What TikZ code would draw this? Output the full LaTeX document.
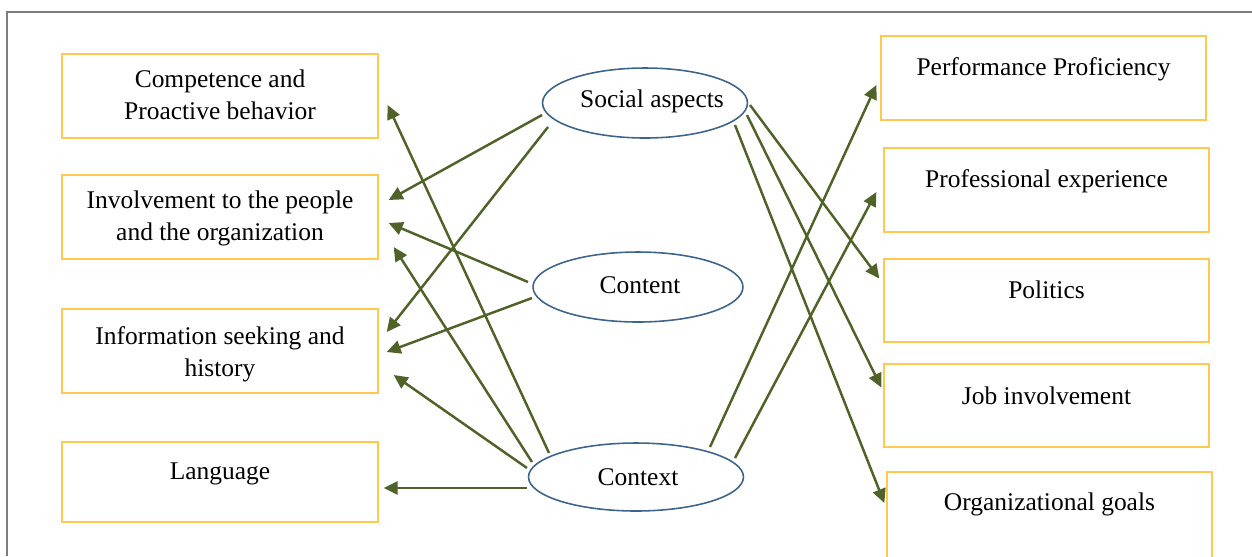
\documentclass[tikz,border=0pt]{standalone}
\usepackage{fontspec}
\setmainfont{Liberation Serif}
\usetikzlibrary{arrows.meta,calc,shapes.geometric}
\definecolor{boxc}{RGB}{255,200,80}
\definecolor{ellc}{RGB}{60,100,140}
\definecolor{arrc}{RGB}{79,98,40}
\definecolor{framec}{RGB}{125,125,125}
\begin{document}
\begin{tikzpicture}[x=0.02cm,y=-0.02cm,
  lbox/.style={draw=boxc,line width=0.8pt,inner sep=0pt,minimum width=6.32cm,minimum height=1.68cm},
  rbox/.style={draw=boxc,line width=0.8pt,inner sep=0pt,minimum width=6.5cm,minimum height=1.68cm},
  txt/.style={font=\fontsize{14.5}{18.1}\selectfont,align=center,inner sep=0pt,anchor=base},
  ell/.style={ellipse,draw=ellc,line width=0.9pt,inner sep=0pt},
  arr/.style={draw=arrc,line width=1.4pt,-{Triangle[length=8pt,width=7.5pt]}}]
\useasboundingbox (0,0) rectangle (1252,556);
% frame
\draw[framec,line width=0.6pt] (7,556) -- (7,12) -- (1252,12);
% left boxes
\node[lbox] (b1) at (220,96) {};
\node[lbox] (b2) at (220,217) {};
\node[lbox] (b3) at (220,351) {};
\node[lbox,minimum height=1.6cm] (b4) at (220,482) {};
\node[txt] (t1) at (220,119) {Competence and\\Proactive behavior};
\node[txt] (t2) at (220,240) {Involvement to the people\\and the organization};
\node[txt] (t3) at (220,376) {Information seeking and\\history};
\node[txt] (t4) at (220,479) {Language};
% right boxes
\node[rbox] (r1) at (1043.5,78) {};
\node[rbox] (r2) at (1046.5,190) {};
\node[rbox,minimum height=1.66cm] (r3) at (1046.5,300.5) {};
\node[rbox,minimum height=1.66cm] (r4) at (1046.5,405.5) {};
\node[rbox,minimum height=1.72cm] (r5) at (1049.5,515) {};
\node[txt] (u1) at (1043.5,75) {Performance Proficiency};
\node[txt] (u2) at (1046.5,187) {Professional experience};
\node[txt] (u3) at (1046.5,298) {Politics};
\node[txt] (u4) at (1046.5,404) {Job involvement};
\node[txt] (u5) at (1049.5,510) {Organizational goals};
% ellipses
\node[ell,minimum width=4.1cm,minimum height=1.4cm] (soc) at (645,103) {};
\node[ell,minimum width=4.2cm,minimum height=1.4cm] (con) at (638,287) {};
\node[ell,minimum width=4.3cm,minimum height=1.36cm] (ctx) at (636,477) {};
\node[txt] (st) at (652,107) {Social aspects};
\node[txt] (nt) at (640,293) {Content};
\node[txt] (xt) at (638,485) {Context};
% left arrows
\draw[arr] ($(ctx.center)+(-87,-24)$) -- ($(b1.east)+(9,9)$);
\draw[arr] ($(soc.center)+(-103,12)$) -- ($(b2.east)+(10,-17)$);
\draw[arr] ($(soc.center)+(-97,24)$) -- ($(b3.east)+(8,-19)$);
\draw[arr] ($(con.center)+(-110,-5)$) -- ($(b2.east)+(10,6)$);
\draw[arr] ($(con.center)+(-106,11)$) -- ($(b3.east)+(8,1)$);
\draw[arr] ($(ctx.center)+(-104,-15)$) -- ($(b2.east)+(15,30)$);
\draw[arr] ($(ctx.center)+(-109,-9)$) -- ($(b3.east)+(15,24)$);
\draw[arr] ($(ctx.center)+(-109,11)$) -- ($(b4.east)+(5,6)$);
% right arrows
\draw[arr] ($(soc.center)+(105,2)$) -- ($(r3.west)+(-4,-22)$);
\draw[arr] ($(soc.center)+(102,12)$) -- ($(r4.west)+(-2,-18)$);
\draw[arr] ($(soc.center)+(90,22)$) -- ($(r5.west)+(-2,-12)$);
\draw[arr] ($(ctx.center)+(74,-30)$) -- ($(r1.west)+(-4,7)$);
\draw[arr] ($(ctx.center)+(99,-19)$) -- ($(r2.west)+(-7,2)$);
\end{tikzpicture}
\end{document}
